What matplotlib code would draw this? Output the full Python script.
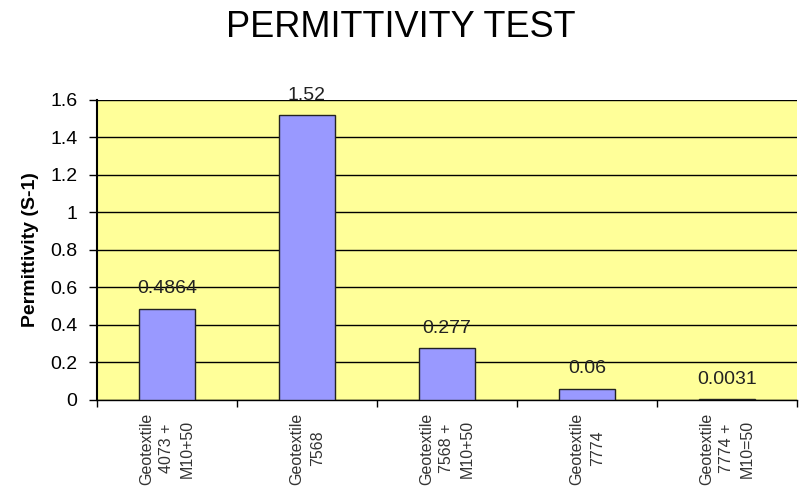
import matplotlib
matplotlib.use("Agg")
import matplotlib.pyplot as plt
import numpy as np

categories = ["Geotextile\n4073 +\nM10+50", "Geotextile\n7568",
              "Geotextile\n7568 +\nM10+50", "Geotextile\n7774",
              "Geotextile\n7774 +\nM10=50"]
values = [0.4864, 1.52, 0.277, 0.06, 0.0031]
value_labels = ["0.4864", "1.52", "0.277", "0.06", "0.0031"]
yticks = [0, 0.2, 0.4, 0.6, 0.8, 1, 1.2, 1.4, 1.6]
ytick_labels = ["0", "0.2", "0.4", "0.6", "0.8", "1", "1.2", "1.4", "1.6"]

plt.rcParams['font.family'] = ['Liberation Sans', 'DejaVu Sans']

fig = plt.figure(figsize=(8.01, 4.90), dpi=100)
ax = fig.add_axes([0.121, 0.184, 0.874, 0.612])
ax.set_facecolor('#FFFF99')

x = np.arange(len(categories))
ax.set_axisbelow(True)
ax.yaxis.grid(True, color='black', linewidth=1.0)
ax.bar(x, values, width=0.4, color='#9999FF', edgecolor='#222222', linewidth=1.0, zorder=3)

for xi, v, lab in zip(x, values, value_labels):
    ax.annotate(lab, (xi, v), xytext=(0, 11), textcoords='offset points',
                ha='center', va='baseline', fontsize=14, color='#222222', zorder=4)

ax.set_xlim(-0.5, len(categories) - 0.5)
ax.set_ylim(0, 1.6)
ax.set_yticks(yticks)
ax.set_yticklabels(ytick_labels, fontsize=14)
ax.set_xticks(x)
ax.set_xticklabels(categories, rotation=90, fontsize=11.5, color='#333333',
                   va='top', ha='center', multialignment='center', linespacing=1.45)
ax.tick_params(axis='x', length=0, pad=9)
ax.set_xticks(np.arange(len(categories) + 1) - 0.5, minor=True)
ax.tick_params(axis='x', which='minor', length=5, width=1.0, color='black')
ax.tick_params(axis='y', length=6, width=1.0, color='black', pad=8)

for side in ['top', 'right']:
    ax.spines[side].set_visible(False)
ax.spines['left'].set_linewidth(1.5)
ax.spines['bottom'].set_linewidth(1.0)

ax.set_ylabel("Permittivity (S-1)", fontsize=14, fontweight='bold', labelpad=8)
fig.text(0.5, 0.943, "PERMITTIVITY TEST", ha='center', va='center', fontsize=26)

fig.savefig("out.png", dpi=100)
